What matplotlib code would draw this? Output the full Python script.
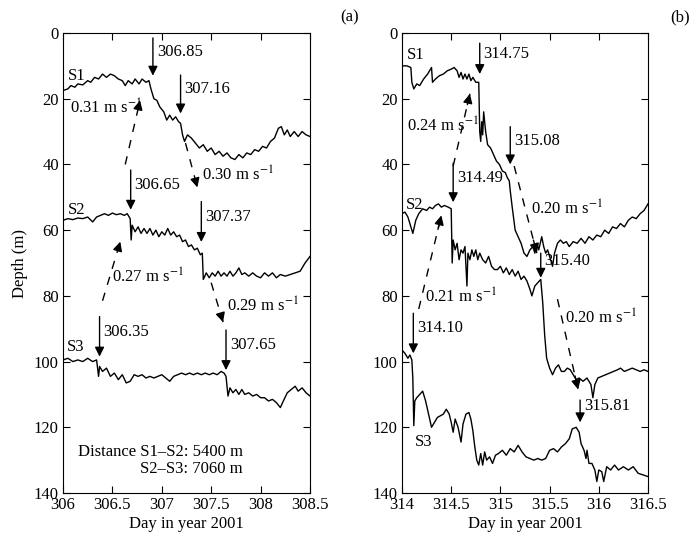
import numpy as np
import matplotlib
matplotlib.use("Agg")
import matplotlib.pyplot as plt

plt.rcParams['font.family'] = ['Liberation Serif', 'DejaVu Serif']
plt.rcParams['mathtext.fontset'] = 'stix'
plt.rcParams['font.size'] = 12

# ---- panel (a): days 306-308.5 ----
a_s1_day = [306.00, 306.05, 306.08, 306.12, 306.15, 306.20, 306.25, 306.28, 306.32, 306.36, 306.40, 306.44,
            306.48, 306.52, 306.56, 306.60, 306.63, 306.66, 306.70, 306.73, 306.77, 306.80, 306.84, 306.87,
            306.89, 306.92, 306.95, 306.98, 307.02, 307.05, 307.08, 307.11, 307.14, 307.17, 307.19, 307.21,
            307.23, 307.26, 307.30, 307.34, 307.38, 307.42, 307.46, 307.50, 307.54, 307.58, 307.62, 307.66,
            307.70, 307.74, 307.78, 307.82, 307.86, 307.90, 307.94, 307.98, 308.02, 308.06, 308.10, 308.14,
            308.18, 308.21, 308.24, 308.27, 308.30, 308.34, 308.38, 308.42, 308.46, 308.50]
a_s1_depth = [17.5, 17, 16, 16.5, 15.5, 15.8, 14.5, 15, 13.5, 14, 12.5, 13.5,
              12.5, 13, 14, 14.5, 16, 14.5, 15.5, 14, 15.5, 14, 15, 14.5,
              17, 20, 20.5, 22.5, 24, 26.5, 25, 26.5, 25.5, 27, 27.5, 31,
              33, 31, 32, 33.5, 35, 34, 36, 35, 37, 36, 37.5, 36.5,
              38, 38.5, 37, 38, 36.5, 37, 35.5, 36, 34.5, 35, 33, 32,
              29, 28.5, 31, 29.5, 31.5, 30, 31.5, 30, 31, 31.5]

a_s2_day = [306.00, 306.05, 306.10, 306.15, 306.20, 306.25, 306.30, 306.34, 306.38, 306.42, 306.46, 306.50,
            306.54, 306.58, 306.62, 306.65, 306.68, 306.69, 306.70, 306.73, 306.76, 306.79, 306.82, 306.85,
            306.88, 306.91, 306.94, 306.97, 307.00, 307.03, 307.06, 307.09, 307.12, 307.15, 307.18, 307.21,
            307.24, 307.27, 307.30, 307.33, 307.36, 307.39, 307.41, 307.42, 307.45, 307.48, 307.51, 307.54,
            307.57, 307.60, 307.63, 307.66, 307.69, 307.72, 307.75, 307.78, 307.81, 307.84, 307.88, 307.92,
            307.96, 308.00, 308.04, 308.08, 308.12, 308.16, 308.20, 308.25, 308.30, 308.35, 308.40, 308.45,
            308.50]
a_s2_depth = [57, 56.5, 56.8, 56.3, 56.5, 56, 57.5, 56, 55.5, 55, 55.5, 54.8,
              55.3, 55, 55.5, 55, 56.5, 63, 58.5, 60.5, 59, 61, 59.5, 61,
              59.5, 61.5, 60, 62, 60.5, 61.5, 59.5, 61.5, 60.5, 62, 61.5, 63.5,
              63, 65, 64.5, 66, 65.5, 67.5, 67, 75, 73, 74.5, 73, 74,
              72.5, 74, 73, 74, 72.5, 74, 73, 71.5, 73.5, 73, 74, 73,
              74, 74.5, 73, 74, 73, 74.5, 73.5, 74, 73.5, 73, 72.5, 70,
              68]

a_s3_day = [306.00, 306.05, 306.10, 306.15, 306.20, 306.25, 306.30, 306.34, 306.36, 306.37, 306.40, 306.44,
            306.48, 306.52, 306.56, 306.60, 306.64, 306.68, 306.72, 306.76, 306.80, 306.84, 306.88, 306.92,
            306.96, 307.00, 307.04, 307.08, 307.12, 307.16, 307.20, 307.24, 307.28, 307.32, 307.36, 307.40,
            307.44, 307.48, 307.52, 307.56, 307.60, 307.63, 307.65, 307.67, 307.69, 307.72, 307.75, 307.78,
            307.81, 307.84, 307.88, 307.92, 307.96, 308.00, 308.04, 308.08, 308.12, 308.16, 308.20, 308.23,
            308.27, 308.31, 308.35, 308.38, 308.42, 308.46, 308.50]
a_s3_depth = [99.5, 99, 100, 99.5, 100, 99, 100, 99.5, 104.5, 101.5, 103, 102,
              104.5, 103.5, 105.5, 104, 106.5, 106, 104, 104.5, 104, 105, 104.5, 105,
              104.5, 104, 105, 106, 104.5, 104, 103.5, 104, 103.5, 104, 103.5, 104,
              103.5, 104, 103.5, 104, 103, 103.5, 104.5, 110.5, 108, 109.5, 108.5, 110,
              108.5, 110, 109.5, 110.5, 110, 111, 111, 112, 111.5, 112.5, 114, 112,
              109.5, 108.5, 107.5, 109, 108, 109.5, 110.5]

# ---- panel (b): days 314-316.5 ----
b_s1_day = [314.00, 314.05, 314.09, 314.10, 314.12, 314.15, 314.18, 314.22, 314.26, 314.30, 314.31, 314.34,
            314.38, 314.42, 314.46, 314.50, 314.53, 314.56, 314.58, 314.60, 314.62, 314.64, 314.66, 314.68,
            314.70, 314.72, 314.75, 314.78, 314.79, 314.80, 314.81, 314.82, 314.83, 314.85, 314.87, 314.90,
            314.93, 314.96, 314.99, 315.02, 315.05, 315.07, 315.09, 315.10, 315.12, 315.15, 315.18, 315.21,
            315.24, 315.27, 315.30, 315.33, 315.35, 315.37, 315.39, 315.42, 315.44, 315.46, 315.48, 315.51,
            315.53, 315.55, 315.58, 315.61, 315.64, 315.67, 315.70, 315.74, 315.78, 315.82, 315.86, 315.90,
            315.94, 315.98, 316.02, 316.06, 316.10, 316.14, 316.18, 316.22, 316.26, 316.30, 316.34, 316.38,
            316.42, 316.46, 316.50]
b_s1_depth = [10, 10, 10.5, 15, 17, 15.5, 16, 14, 12.5, 10.5, 15, 14,
              13, 12.5, 11.5, 11, 10.5, 11.5, 13.5, 12, 14, 12.5, 14, 12.5,
              14.5, 13.5, 15, 15, 30, 33, 27, 31, 24, 30, 34, 35,
              37, 39, 40, 42, 42.5, 44, 45, 48, 53, 60, 62, 64,
              67, 68, 66, 65, 67, 64, 66, 62, 65, 67, 66, 69,
              71, 67, 64, 63, 64, 63.5, 65, 63.5, 64, 62.5, 64, 62,
              63, 61.5, 62, 60, 61, 59, 59.5, 58, 59, 57, 56, 56.5,
              55, 54, 52]

b_s2_day = [314.00, 314.03, 314.06, 314.09, 314.11, 314.14, 314.17, 314.21, 314.25, 314.28, 314.31, 314.34,
            314.37, 314.40, 314.43, 314.47, 314.50, 314.51, 314.52, 314.54, 314.56, 314.58, 314.60, 314.62,
            314.64, 314.66, 314.67, 314.69, 314.71, 314.73, 314.75, 314.77, 314.79, 314.82, 314.85, 314.88,
            314.91, 314.94, 314.97, 315.00, 315.03, 315.06, 315.09, 315.12, 315.15, 315.18, 315.21, 315.24,
            315.27, 315.30, 315.32, 315.35, 315.38, 315.41, 315.43, 315.45, 315.47, 315.50, 315.53, 315.56,
            315.59, 315.62, 315.65, 315.68, 315.71, 315.74, 315.77, 315.80, 315.84, 315.88, 315.92, 315.94,
            315.96, 315.99, 316.03, 316.07, 316.11, 316.15, 316.19, 316.22, 316.26, 316.30, 316.34, 316.38,
            316.42, 316.46, 316.50]
b_s2_depth = [55, 54.5, 56, 59, 61, 57, 55, 53.5, 54, 53, 53.5, 52.5,
              52, 53, 52.5, 53, 53.5, 70, 63, 66, 64, 69, 66, 67,
              65, 77, 67, 69, 66, 68, 66, 69, 67, 69, 70, 68,
              71, 72, 72, 71, 73, 71.5, 73.5, 72, 74, 72.5, 75, 74,
              75.5, 78, 80, 77, 76, 75, 82, 92, 99, 102, 104, 102,
              101, 103, 103, 102, 102.5, 104, 105.5, 105, 106, 105, 107, 111,
              107, 105, 104.5, 104, 103.5, 103, 102.5, 102, 103, 102.5, 102, 102.5,
              103, 102.5, 103]

b_s3_day = [314.00, 314.03, 314.06, 314.08, 314.10, 314.11, 314.12, 314.13, 314.15, 314.18, 314.21, 314.24,
            314.27, 314.30, 314.33, 314.36, 314.39, 314.42, 314.45, 314.48, 314.50, 314.52, 314.54, 314.57,
            314.60, 314.62, 314.65, 314.68, 314.70, 314.72, 314.74, 314.76, 314.78, 314.80, 314.82, 314.84,
            314.86, 314.89, 314.92, 314.95, 314.98, 315.02, 315.06, 315.10, 315.14, 315.18, 315.22, 315.26,
            315.30, 315.34, 315.38, 315.42, 315.46, 315.50, 315.54, 315.58, 315.62, 315.66, 315.70, 315.73,
            315.77, 315.80, 315.82, 315.85, 315.87, 315.88, 315.90, 315.93, 315.96, 315.98, 316.00, 316.03,
            316.05, 316.08, 316.12, 316.16, 316.20, 316.25, 316.30, 316.35, 316.40, 316.45, 316.50]
b_s3_depth = [96.5, 97.5, 99, 98, 99.5, 105, 119.5, 112, 111, 110, 109, 112,
              116, 120, 118.5, 117, 116.5, 116, 114.5, 116, 118.5, 121.5, 117.5, 120,
              124.5, 119, 116, 115.5, 117.5, 121, 126, 130, 131.5, 128, 131.5, 127.5,
              130, 129, 131, 128.5, 128, 127, 128.5, 126.5, 127.5, 125.5, 127.5, 129,
              129.5, 130, 129.5, 130, 129.5, 127, 126.5, 127.5, 126, 125, 123.5, 120.5,
              120, 121.5, 125, 127, 129.5, 127, 131, 131, 133, 136.5, 133, 133.5,
              136.5, 132, 133, 131.5, 133, 132, 133, 132, 134, 134.5, 135]

# event arrows: (x, y_top, y_tip, label)
a_events = [(306.91, 1.5, 13.0, "306.85"), (307.19, 12.8, 24.5, "307.16"),
            (306.685, 41.7, 53.8, "306.65"), (307.40, 51.3, 63.6, "307.37"),
            (306.37, 86.3, 98.5, "306.35"), (307.65, 90.4, 102.6, "307.65")]
b_events = [(314.79, 3.1, 12.5, "314.75"), (315.10, 28.5, 40.0, "315.08"),
            (314.52, 39.6, 51.5, "314.49"), (315.41, 67.0, 74.5, "315.40"),
            (314.115, 85.3, 97.5, "314.10"), (315.81, 111.7, 118.5, "315.81")]

# propagation arrows: (x0, y0, x1, y1, label, label_x, label_y)
a_speeds = [(306.63, 40.0, 306.78, 20.5, "0.31", 306.07, 23.0),
            (307.24, 33.5, 307.36, 47.0, "0.30", 307.41, 43.2),
            (306.40, 81.5, 306.58, 63.5, "0.27", 306.50, 74.2),
            (307.50, 76.0, 307.62, 88.0, "0.29", 307.66, 83.3)]
b_speeds = [(314.52, 40.5, 314.69, 18.5, "0.24", 314.05, 28.5),
            (315.14, 40.5, 315.37, 67.0, "0.20", 315.31, 53.6),
            (314.17, 84.0, 314.40, 55.5, "0.21", 314.23, 80.3),
            (315.58, 81.0, 315.79, 108.5, "0.20", 315.66, 86.8)]

fig = plt.figure(figsize=(6.9, 5.4), dpi=100)
ax1 = fig.add_axes([63/690, 1-493/540, 247/690, 460/540])
ax2 = fig.add_axes([402/690, 1-493/540, 246/690, 460/540])


def draw_panel(ax, series, events, speeds, names, x0, xt):
    for (d, z) in series:
        ax.plot(d, z, color='black', lw=1.0)
    for x, y0, y1, lab in events:
        ax.annotate("", xy=(x, y1), xytext=(x, y0),
                    arrowprops=dict(arrowstyle='-|>', color='black', lw=1.0,
                                    mutation_scale=14, shrinkA=0, shrinkB=0))
        ax.text(x + 0.04, (y0 + y1) / 2 - 1.5, lab, ha='left', va='center')
    for xs, ys, xe, ye, lab, lx, ly in speeds:
        ax.plot([xs, xe], [ys, ye], color='black', lw=1.0, ls=(0, (6, 6)))
        ax.annotate("", xy=(xe, ye), xytext=(xs + (xe - xs) * 0.85, ys + (ye - ys) * 0.85),
                    arrowprops=dict(arrowstyle='-|>', color='black', lw=1.0,
                                    mutation_scale=14, shrinkA=0, shrinkB=0))
        ax.text(lx, ly, lab + r" m s$^{-1}$", ha='left', va='center')
    for lab, (lx, ly) in names:
        ax.text(lx, ly, lab, ha='left', va='center')
    ax.set_xlim(x0, x0 + 2.5)
    ax.set_ylim(140, 0)
    ax.set_xticks(xt)
    ax.set_xticklabels([f"{t:g}" for t in xt])
    ax.set_yticks(np.arange(0, 141, 20))
    ax.tick_params(direction='in', top=True, right=True, length=5, pad=3)
    ax.set_xlabel("Day in year 2001", labelpad=2)


draw_panel(ax1, [(a_s1_day, a_s1_depth), (a_s2_day, a_s2_depth), (a_s3_day, a_s3_depth)],
           a_events, a_speeds,
           [("S1", (306.05, 13.0)), ("S2", (306.05, 54.0)), ("S3", (306.04, 95.6))],
           306, [306, 306.5, 307, 307.5, 308, 308.5])
draw_panel(ax2, [(b_s1_day, b_s1_depth), (b_s2_day, b_s2_depth), (b_s3_day, b_s3_depth)],
           b_events, b_speeds,
           [("S1", (314.05, 6.7)), ("S2", (314.04, 52.3)), ("S3", (314.13, 124.4))],
           314, [314, 314.5, 315, 315.5, 316, 316.5])

ax1.text(306.15, 130, "Distance S1\u2013S2: 5400 m\nS2\u2013S3: 7060 m", ha='left', va='center',
         multialignment='right', linespacing=1.1)
ax1.set_ylabel("Depth (m)", labelpad=4)

fig.text(350/690, 1-17/540, "(a)", ha='center', va='center')
fig.text(680/690, 1-17/540, "(b)", ha='center', va='center')

fig.savefig("out.png", dpi=100)
